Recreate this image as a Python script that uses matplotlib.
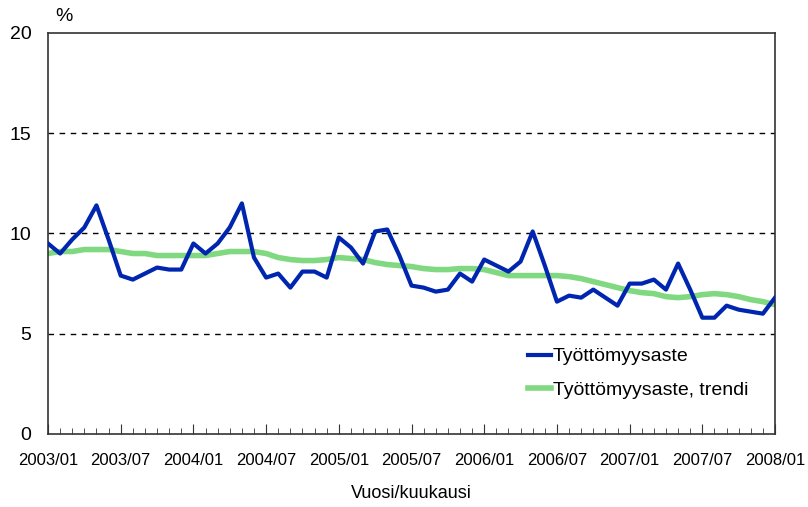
import matplotlib.pyplot as plt
from matplotlib.ticker import MultipleLocator

# monthly unemployment rate 2003/01 - 2008/01
rate = [9.5, 9.0, 9.7, 10.3, 11.4, 9.7, 7.9, 7.7, 8.0, 8.3, 8.2, 8.2,
        9.5, 9.0, 9.5, 10.3, 11.5, 8.8, 7.8, 8.0, 7.3, 8.1, 8.1, 7.8,
        9.8, 9.3, 8.5, 10.1, 10.2, 8.9, 7.4, 7.3, 7.1, 7.2, 8.0, 7.6,
        8.7, 8.4, 8.1, 8.6, 10.1, 8.4, 6.6, 6.9, 6.8, 7.2, 6.8, 6.4,
        7.5, 7.5, 7.7, 7.2, 8.5, 7.2, 5.8, 5.8, 6.4, 6.2, 6.1, 6.0, 6.8]

trend = [9.0, 9.1, 9.1, 9.2, 9.2, 9.2, 9.1, 9.0, 9.0, 8.9, 8.9, 8.9,
         8.9, 8.9, 9.0, 9.1, 9.1, 9.1, 9.0, 8.8, 8.7, 8.65, 8.65, 8.7,
         8.8, 8.75, 8.7, 8.55, 8.45, 8.4, 8.35, 8.25, 8.2, 8.2, 8.25, 8.25,
         8.2, 8.05, 7.9, 7.9, 7.9, 7.9, 7.9, 7.85, 7.75, 7.6, 7.45, 7.3,
         7.15, 7.05, 7.0, 6.85, 6.8, 6.85, 6.95, 7.0, 6.95, 6.85, 6.7, 6.6, 6.45]

tick_labels = ['2003/01', '2003/07', '2004/01', '2004/07', '2005/01', '2005/07',
               '2006/01', '2006/07', '2007/01', '2007/07', '2008/01']

plt.rcParams['font.family'] = ['Liberation Sans', 'DejaVu Sans']

fig = plt.figure(figsize=(8.08, 5.07), dpi=100)
ax = fig.add_axes([0.0594, 0.144, 0.8998, 0.791])

months = list(range(len(rate)))
ax.plot(months, trend, color='#80d880', lw=4, label='Työttömyysaste, trendi', zorder=2)
ax.plot(months, rate, color='#0026b0', lw=3, label='Työttömyysaste', zorder=3)

ax.set_xlim(0, 60)
ax.set_ylim(0, 20)
ax.set_yticks([0, 5, 10, 15, 20])
for yv in [5, 10, 15]:
    ax.axhline(yv, color='black', lw=1, ls=(0, (4, 4)), zorder=1)

ax.set_xticks(range(0, 61, 6))
ax.set_xticklabels(tick_labels)
ax.xaxis.set_minor_locator(MultipleLocator(1))
ax.tick_params(axis='x', which='major', direction='in', length=7, labelsize=12, pad=14,
               color='#333333')
ax.tick_params(axis='x', which='minor', direction='in', length=4, color='#333333')
ax.tick_params(axis='y', length=0, labelsize=14, pad=12)

for s in ax.spines.values():
    s.set_color('#333333')
    s.set_linewidth(1.2)

ax.set_xlabel('Vuosi/kuukausi', fontsize=13, labelpad=12)
ax.text(0.01, 1.02, '%', transform=ax.transAxes, fontsize=14, ha='left', va='bottom')

handles, labels = ax.get_legend_handles_labels()
ax.legend(handles[::-1], labels[::-1], loc='upper left', bbox_to_anchor=(0.66, 0.215),
          frameon=False, fontsize=14, handlelength=1.2, handletextpad=0.1,
          labelspacing=0.8, borderpad=0, borderaxespad=0)

fig.savefig('out.png', dpi=100)
